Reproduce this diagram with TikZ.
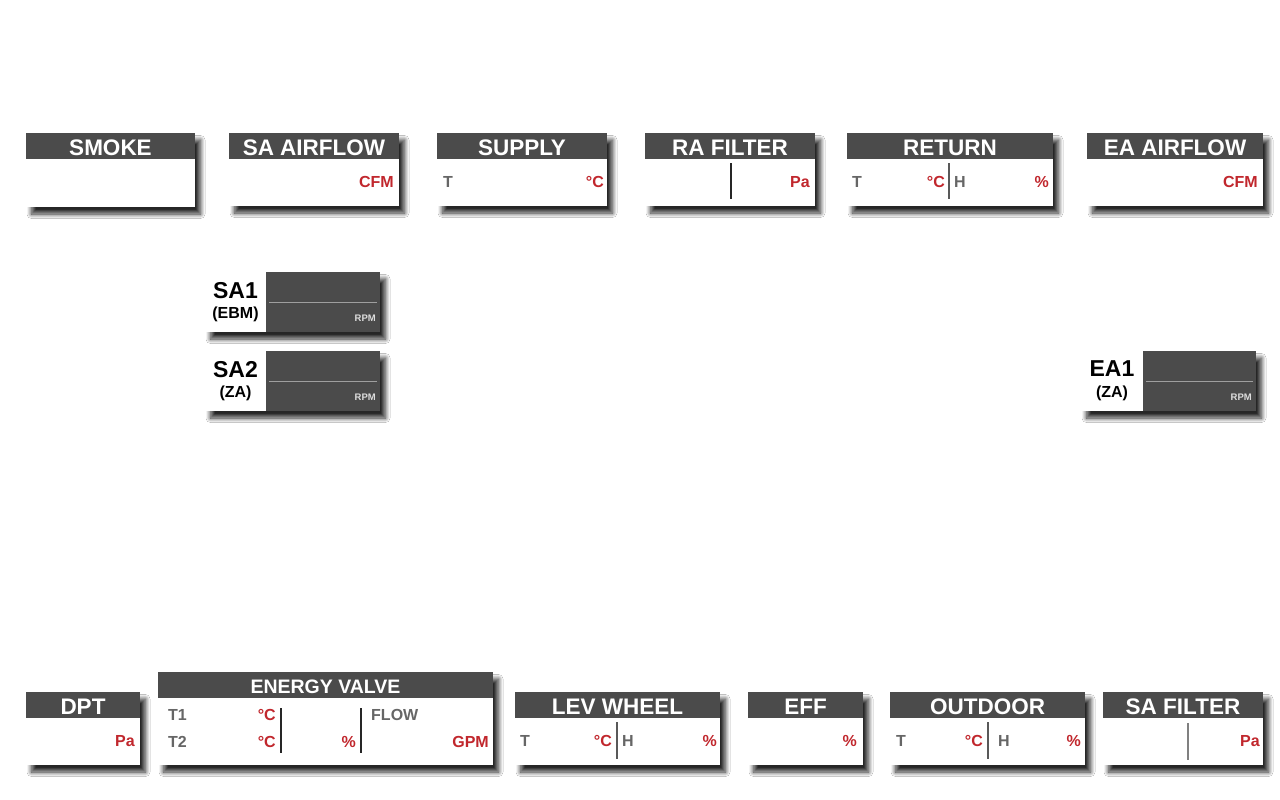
\documentclass[tikz,border=0pt]{standalone}
\usepackage{fontspec}
\setmainfont{Liberation Sans}
\usetikzlibrary{shadows.blur}
\definecolor{hdr}{HTML}{4B4B4B}
\definecolor{unitred}{HTML}{C1272D}
\definecolor{lblgray}{HTML}{666666}
\definecolor{rpmgray}{HTML}{DDDDDD}
\tikzset{
  panelshadow/.style={fill=white, blur shadow={shadow xshift=5.5pt, shadow yshift=-7pt, shadow opacity=85, shadow blur steps=15, shadow blur radius=4.5pt}},
  title/.style={text=white, font=\bfseries\fontsize{22.5}{22.5}\selectfont, inner sep=0pt, text depth=0pt},
  smalltitle/.style={title, font=\bfseries\fontsize{19.5}{19.5}\selectfont},
  unit/.style={text=unitred, font=\bfseries\fontsize{16}{16}\selectfont, inner sep=0pt, text depth=0pt, anchor=east},
  lbl/.style={text=lblgray, font=\bfseries\fontsize{16}{16}\selectfont, inner sep=0pt, text depth=0pt, anchor=west},
  divider/.style={draw=#1, line width=1.2pt},
  fanlabel/.style={text=black, font=\bfseries\fontsize{23}{23}\selectfont, inner sep=0pt, text depth=0pt},
  fansub/.style={text=black, font=\bfseries\fontsize{16}{16}\selectfont, inner sep=0pt, text depth=0pt},
  rpm/.style={text=rpmgray, font=\bfseries\fontsize{9.5}{9.5}\selectfont, inner sep=0pt, text depth=0pt, anchor=east},
  fanline/.style={draw=gray!75, line width=0.8pt},
}
% name, x1, y1, yh, x2, y2, title
\newcommand\hpanel[7]{%
  \path[panelshadow] (#2,#3) rectangle (#5,#6);
  \fill[hdr] (#2,#3) rectangle (#5,#4);
  \node[title] (#1) at ({(#2+#5)/2},{(#3+#4)/2+1.5}) {#7};
}
% name, x1, xm, x2, y1, y2, label, sub
\newcommand\fanpanel[8]{%
  \path[panelshadow] (#2,#5) rectangle (#4,#6);
  \fill[hdr] (#3,#5) rectangle (#4,#6);
  \draw[fanline] ({#3+3},{(#5+#6)/2}) -- ({#4-3},{(#5+#6)/2});
  \node[fanlabel] (#1) at ({(#2+#3)/2},{#5+18}) {#7};
  \node[fansub] (#1sub) at ({(#2+#3)/2},{#5+41}) {#8};
  \node[rpm] (#1rpm) at ({#4-4},{#5+46}) {RPM};
}
\begin{document}
\begin{tikzpicture}[x=1pt,y=-1pt]
\useasboundingbox (0,0) rectangle (1280,800);
\fill[white] (0,0) rectangle (1280,800);

% ---------- top row ----------
\hpanel{smoke}{26}{133}{159}{195}{207}{SMOKE}
\hpanel{saair}{229}{133}{159}{399}{206}{SA AIRFLOW}
\node[unit] (saaircfm) at (394,182) {CFM};
\hpanel{supply}{437}{133}{159}{607}{206}{SUPPLY}
\node[lbl] (supplyt) at (443,182) {T};
\node[unit] (supplyc) at (604,182) {°C};
\hpanel{rafilter}{645}{133}{159}{815}{206}{RA FILTER}
\draw[divider=black!85] (731,163) -- (731,199);
\node[unit] (rapa) at (810,182) {Pa};
\hpanel{return}{847}{133}{159}{1053}{206}{RETURN}
\node[lbl] (rett) at (852,182) {T};
\node[unit] (retc) at (945,182) {°C};
\draw[divider=black!65] (949,163) -- (949,199);
\node[lbl] (reth) at (954,182) {H};
\node[unit] (retp) at (1049,182) {\%};
\hpanel{eaair}{1087}{133}{159}{1263}{206}{EA AIRFLOW}
\node[unit] (eaaircfm) at (1258,182) {CFM};

% ---------- fans ----------
\fanpanel{sa1}{205}{266}{380}{272}{332}{SA1}{(EBM)}
\fanpanel{sa2}{205}{266}{380}{351}{411}{SA2}{(ZA)}
\fanpanel{ea1}{1081}{1143}{1256}{351}{411}{EA1}{(ZA)}

% ---------- bottom row ----------
\hpanel{dpt}{26}{692}{718}{140}{765}{DPT}
\node[unit] (dptpa) at (135,741) {Pa};

\path[panelshadow] (158,672) rectangle (493,765);
\fill[hdr] (158,672) rectangle (493,698);
\node[smalltitle] (ev) at (325.5,687) {ENERGY VALVE};
\node[lbl] (evt1) at (168,715) {T1};
\node[unit] (evc1) at (276,715) {°C};
\node[lbl] (evt2) at (168,742) {T2};
\node[unit] (evc2) at (276,742) {°C};
\draw[divider=black!85] (281,708) -- (281,753);
\node[unit] (evp) at (356,742) {\%};
\draw[divider=black!85] (361,708) -- (361,753);
\node[lbl] (evflow) at (371,715) {FLOW};
\node[unit] (evgpm) at (489,742) {GPM};

\hpanel{lev}{515}{692}{718}{720}{765}{LEV WHEEL}
\node[lbl] (levt) at (520,741) {T};
\node[unit] (levc) at (612,741) {°C};
\draw[divider=black!65] (617,722) -- (617,759);
\node[lbl] (levh) at (622,741) {H};
\node[unit] (levp) at (717,741) {\%};

\hpanel{eff}{748}{692}{718}{863}{765}{EFF}
\node[unit] (effp) at (857,741) {\%};

\hpanel{outdoor}{890}{692}{718}{1085}{765}{OUTDOOR}
\node[lbl] (outt) at (896,741) {T};
\node[unit] (outc) at (983,741) {°C};
\draw[divider=black!65] (988,722) -- (988,759);
\node[lbl] (outh) at (998,741) {H};
\node[unit] (outp) at (1081,741) {\%};

\hpanel{safilter}{1103}{692}{718}{1263}{765}{SA FILTER}
\draw[divider=black!50] (1188,723) -- (1188,760);
\node[unit] (safpa) at (1260,741) {Pa};
\end{tikzpicture}
\end{document}
